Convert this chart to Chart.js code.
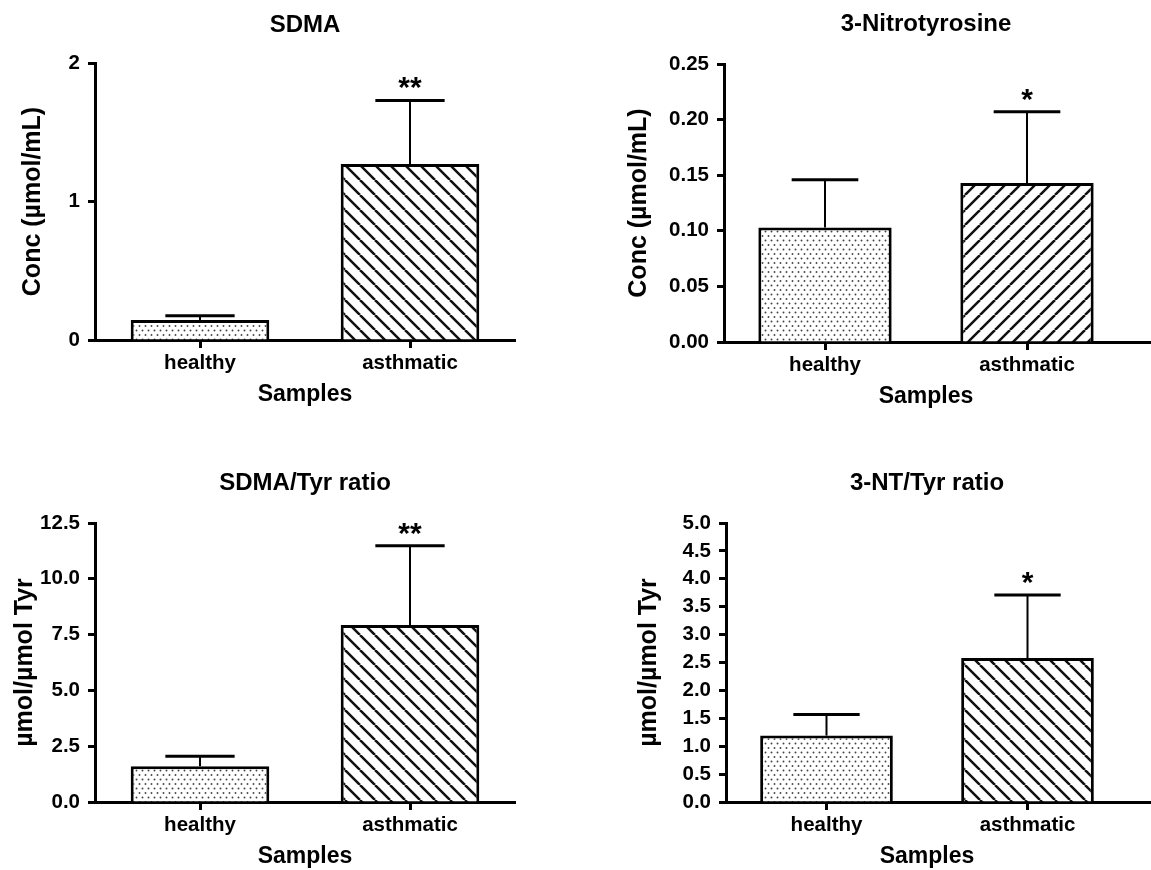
<!DOCTYPE html>
<html>
<head>
<meta charset="utf-8">
<script src="https://cdn.jsdelivr.net/npm/chart.js@4"></script>
<style>
  body { margin: 0; background: #fff; }
  #wrap { position: relative; width: 1151px; height: 870px; overflow: hidden; }
  canvas { position: absolute; }
</style>
</head>
<body>
<div id="wrap">
  <canvas id="sdma" width="575" height="430" style="left:0px;top:0px"></canvas>
  <canvas id="nitro" width="576" height="430" style="left:575px;top:0px"></canvas>
  <canvas id="sdmaRatio" width="575" height="430" style="left:0px;top:440px"></canvas>
  <canvas id="ntRatio" width="576" height="430" style="left:575px;top:440px"></canvas>
</div>
<script>
// groups on the x axis
var groups = ['healthy', 'asthmatic'];

// SDMA, umol/mL (mean and SD)
var sdmaMean = [0.145, 1.27];
var sdmaSd = [0.03, 0.46];
var sdmaStars = ['', '**'];

// 3-nitrotyrosine, umol/mL
var ntMean = [0.103, 0.143];
var ntSd = [0.043, 0.064];
var ntStars = ['', '*'];

// SDMA / Tyr ratio
var sdmaRatioMean = [1.6, 7.93];
var sdmaRatioSd = [0.45, 3.55];
var sdmaRatioStars = ['', '**'];

// 3-NT / Tyr ratio
var ntRatioMean = [1.19, 2.58];
var ntRatioSd = [0.38, 1.13];
var ntRatioStars = ['', '*'];

Chart.defaults.font.family = '"Liberation Sans", Arial, sans-serif';
Chart.defaults.font.weight = 'bold';
Chart.defaults.color = '#000';

function dot_pattern() {
  var c = document.createElement('canvas');
  c.width = 6; c.height = 9;
  var x = c.getContext('2d');
  x.fillStyle = '#fff';
  x.fillRect(0, 0, 6, 9);
  x.fillStyle = '#444';
  x.beginPath(); x.arc(1.5, 2, 0.95, 0, Math.PI * 2); x.fill();
  x.beginPath(); x.arc(4.5, 6.5, 0.95, 0, Math.PI * 2); x.fill();
  return x.createPattern(c, 'repeat');
}

function hatch_pattern(forward) {
  var s = 15;
  var c = document.createElement('canvas');
  c.width = s; c.height = s;
  var x = c.getContext('2d');
  x.fillStyle = '#fff';
  x.fillRect(0, 0, s, s);
  x.strokeStyle = '#111';
  x.lineWidth = 2.5;
  x.beginPath();
  [-s, 0, s].forEach(function(k) {
    if (forward) { x.moveTo(k, s); x.lineTo(k + s, 0); }
    else { x.moveTo(k, 0); x.lineTo(k + s, s); }
  });
  x.stroke();
  return x.createPattern(c, 'repeat');
}

// upper SD whiskers, significance marks, and the x axis running on to the edge
function extras(mean, sd, stars, extendAxis) {
  return {
    id: 'extras',
    afterDatasetsDraw: function(chart) {
      var ctx = chart.ctx;
      var ys = chart.scales.y;
      var meta = chart.getDatasetMeta(0);
      var a = chart.chartArea;
      ctx.save();
      ctx.strokeStyle = '#000';
      ctx.fillStyle = '#000';
      if (extendAxis) {
        var y0 = Math.round(a.bottom - 1.5) + 1.5;
        ctx.lineWidth = 3;
        ctx.beginPath();
        ctx.moveTo(a.right - 2, y0);
        ctx.lineTo(chart.width, y0);
        ctx.stroke();
      }
      meta.data.forEach(function(bar, i) {
        var top = ys.getPixelForValue(mean[i] + sd[i]);
        var half = bar.width / 4;
        ctx.lineWidth = 2;
        ctx.beginPath();
        ctx.moveTo(bar.x, bar.y);
        ctx.lineTo(bar.x, top);
        ctx.stroke();
        ctx.lineWidth = 3;
        ctx.beginPath();
        ctx.moveTo(bar.x - half, top);
        ctx.lineTo(bar.x + half, top);
        ctx.stroke();
        if (stars[i]) {
          ctx.font = 'bold 30px "Liberation Sans", Arial, sans-serif';
          ctx.textAlign = 'center';
          ctx.textBaseline = 'alphabetic';
          ctx.fillText(stars[i], bar.x, top - 3);
        }
      });
      ctx.restore();
    }
  };
}

function make_panel(id, p) {
  var ctx = document.getElementById(id);
  return new Chart(ctx, {
    type: 'bar',
    data: {
      labels: groups,
      datasets: [{
        data: p.mean,
        backgroundColor: [dot_pattern(), hatch_pattern(p.forward)],
        borderColor: '#000',
        borderWidth: 3,
        borderSkipped: 'start',
        barPercentage: 0.66,
        categoryPercentage: 1
      }]
    },
    options: {
      responsive: false,
      animation: false,
      layout: { padding: { left: 0, right: p.right, top: 0, bottom: p.bottom } },
      plugins: {
        legend: { display: false },
        tooltip: { enabled: false },
        title: {
          display: true,
          text: p.title,
          fullSize: false,
          color: '#000',
          font: { size: 24, weight: 'bold' },
          padding: { top: p.titleTop, bottom: p.titleBottom }
        }
      },
      scales: {
        x: {
          afterFit: function(s) { s.height = 68; },
          grid: { display: true, drawOnChartArea: false, drawTicks: true, offset: false,
                  tickLength: 8, tickWidth: 3, tickColor: '#000' },
          border: { display: true, color: '#000', width: 3 },
          ticks: { font: { size: 20.5, weight: 'bold' }, color: '#000', padding: 3 },
          title: { display: true, text: 'Samples', color: '#000',
                   font: { size: 23, weight: 'bold' }, padding: { top: 0, bottom: 0 } }
        },
        y: {
          min: 0,
          max: p.max,
          afterFit: function(s) { s.width = p.left; },
          grid: { display: true, drawOnChartArea: false, drawTicks: true,
                  tickLength: 7, tickWidth: 3, tickColor: '#000' },
          border: { display: true, color: '#000', width: 3 },
          ticks: {
            stepSize: p.step,
            padding: 8,
            color: '#000',
            font: { size: 20.5, weight: 'bold' },
            callback: function(v) { return Number(v).toFixed(p.digits); }
          },
          title: { display: true, text: p.yTitle, color: '#000',
                   font: { size: 25, weight: 'bold' }, padding: { top: p.yTitlePad, bottom: 0 } }
        }
      }
    },
    plugins: [extras(p.mean, p.sd, p.stars, p.extend)]
  });
}

make_panel('sdma', {
  title: 'SDMA', yTitle: 'Conc (\u00b5mol/mL)',
  mean: sdmaMean, sd: sdmaSd, stars: sdmaStars, forward: false,
  max: 2, step: 1, digits: 0,
  left: 95, right: 60, bottom: 22, titleTop: 10.6, titleBottom: 23.6, yTitlePad: 18, extend: false
});

make_panel('nitro', {
  title: '3-Nitrotyrosine', yTitle: 'Conc (\u00b5mol/mL)',
  mean: ntMean, sd: ntSd, stars: ntStars, forward: true,
  max: 0.25, step: 0.05, digits: 2,
  left: 149, right: 23, bottom: 20, titleTop: 9.6, titleBottom: 25.6, yTitlePad: 49, extend: true
});

make_panel('sdmaRatio', {
  title: 'SDMA/Tyr ratio', yTitle: '\u00b5mol/\u00b5mol Tyr',
  mean: sdmaRatioMean, sd: sdmaRatioSd, stars: sdmaRatioStars, forward: false,
  max: 12.5, step: 2.5, digits: 1,
  left: 95, right: 60, bottom: 0, titleTop: 28.6, titleBottom: 25.6, yTitlePad: 10, extend: false
});

make_panel('ntRatio', {
  title: '3-NT/Tyr ratio', yTitle: '\u00b5mol/\u00b5mol Tyr',
  mean: ntRatioMean, sd: ntRatioSd, stars: ntRatioStars, forward: false,
  max: 5, step: 0.5, digits: 1,
  left: 151, right: 23, bottom: 0, titleTop: 28.6, titleBottom: 25.6, yTitlePad: 59, extend: true
});
</script>
</body>
</html>
